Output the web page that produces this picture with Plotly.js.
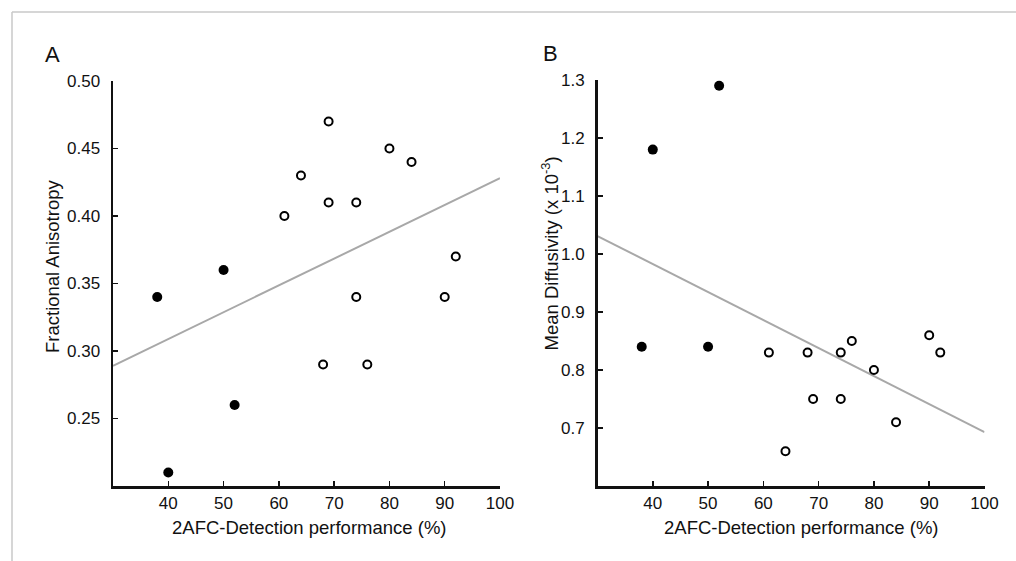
<!DOCTYPE html>
<html><head><meta charset="utf-8">
<script src="https://cdn.plot.ly/plotly-3.0.1.min.js"></script>
<style>html,body{margin:0;padding:0;background:#fff}#chart{width:1016px;height:561px}</style>
</head><body><div id="chart"></div>
<script>
// Panel A: Fractional Anisotropy vs 2AFC detection performance
const perfA_filled = [38, 40, 50, 52];
const fa_filled = [0.34, 0.21, 0.36, 0.26];
const perfA_open = [61, 64, 69, 69, 74, 80, 84, 92, 74, 90, 68, 76];
const fa_open = [0.40, 0.43, 0.47, 0.41, 0.41, 0.45, 0.44, 0.37, 0.34, 0.34, 0.29, 0.29];
const fitA_x = [30, 100];
const fitA_y = [0.289, 0.428];

// Panel B: Mean Diffusivity vs 2AFC detection performance
const perfB_filled = [38, 40, 50, 52];
const md_filled = [0.84, 1.18, 0.84, 1.29];
const perfB_open = [61, 64, 68, 69, 74, 74, 76, 80, 84, 90, 92];
const md_open = [0.83, 0.66, 0.83, 0.75, 0.83, 0.75, 0.85, 0.80, 0.71, 0.86, 0.83];
const fitB_x = [30, 100];
const fitB_y = [1.031, 0.693];

const xTicks = [40, 50, 60, 70, 80, 90, 100];
const faTicks = [0.25, 0.30, 0.35, 0.40, 0.45, 0.50];
const mdTicks = [0.7, 0.8, 0.9, 1.0, 1.1, 1.2, 1.3];

const xTitle = '2AFC-Detection performance (%)';
const yTitleA = 'Fractional Anisotropy';
const yTitleB = 'Mean Diffusivity (x 10<sup>-3</sup>)';

const FONT = 'Liberation Sans, Arial, Helvetica, sans-serif';
const W = 1016, H = 561;
const px = v => v / W;
const py = v => (H - v) / H;

const lineStyle = {color: '#a8a8a8', width: 2};
const filledMarker = {symbol: 'circle', size: 10, color: '#000'};
const openMarker = {symbol: 'circle', size: 8, color: '#fff', line: {color: '#000', width: 2}};

const traces = [
  {x: fitA_x, y: fitA_y, mode: 'lines', line: lineStyle, xaxis: 'x', yaxis: 'y', hoverinfo: 'skip'},
  {x: perfA_filled, y: fa_filled, mode: 'markers', marker: filledMarker, xaxis: 'x', yaxis: 'y', cliponaxis: false},
  {x: perfA_open, y: fa_open, mode: 'markers', marker: openMarker, xaxis: 'x', yaxis: 'y', cliponaxis: false},
  {x: fitB_x, y: fitB_y, mode: 'lines', line: lineStyle, xaxis: 'x2', yaxis: 'y2', hoverinfo: 'skip'},
  {x: perfB_filled, y: md_filled, mode: 'markers', marker: filledMarker, xaxis: 'x2', yaxis: 'y2', cliponaxis: false},
  {x: perfB_open, y: md_open, mode: 'markers', marker: openMarker, xaxis: 'x2', yaxis: 'y2', cliponaxis: false}
];

const axisBase = {
  showline: true, linecolor: '#111', linewidth: 2.5,
  ticks: 'inside', ticklen: 5, tickwidth: 1.5, tickcolor: '#111',
  showgrid: false, zeroline: false, fixedrange: true,
  tickfont: {family: FONT, size: 17, color: '#111'}
};

const layout = {
  width: W, height: H,
  margin: {l: 0, r: 0, t: 0, b: 0},
  paper_bgcolor: '#fff', plot_bgcolor: '#fff',
  showlegend: false,
  xaxis: Object.assign({}, axisBase, {domain: [px(113), px(500)], range: [30, 100], tickvals: xTicks, anchor: 'y', ticklabelstandoff: 0}),
  yaxis: Object.assign({}, axisBase, {domain: [py(486), py(81)], range: [0.20, 0.50], tickvals: faTicks, tickformat: '.2f', anchor: 'x', ticklabelstandoff: 7}),
  xaxis2: Object.assign({}, axisBase, {domain: [px(597.5), px(984.5)], range: [30, 100], tickvals: xTicks, anchor: 'y2', ticklabelstandoff: 0}),
  yaxis2: Object.assign({}, axisBase, {domain: [py(486), py(80)], range: [0.6, 1.3], tickvals: mdTicks, tickformat: '.1f', anchor: 'x2', ticklabelstandoff: 7}),
  shapes: [
    {type: 'line', xref: 'paper', yref: 'paper', x0: px(12), x1: 1, y0: py(12), y1: py(12), line: {color: '#c8c8c8', width: 1.5}},
    {type: 'line', xref: 'paper', yref: 'paper', x0: px(12), x1: px(12), y0: py(12), y1: 0, line: {color: '#c8c8c8', width: 1.5}}
  ],
  annotations: [
    {text: 'A', xref: 'paper', yref: 'paper', x: px(52), y: py(54), showarrow: false, xanchor: 'center', yanchor: 'middle', font: {family: FONT, size: 22, color: '#111'}},
    {text: 'B', xref: 'paper', yref: 'paper', x: px(550), y: py(53), showarrow: false, xanchor: 'center', yanchor: 'middle', font: {family: FONT, size: 22, color: '#111'}},
    {text: yTitleA, xref: 'paper', yref: 'paper', x: px(52.5), y: py(266.5), textangle: -90, showarrow: false, xanchor: 'center', yanchor: 'middle', font: {family: FONT, size: 18.5, color: '#111'}},
    {text: yTitleB, xref: 'paper', yref: 'paper', x: px(550.5), y: py(254), textangle: -90, showarrow: false, xanchor: 'center', yanchor: 'middle', font: {family: FONT, size: 18.5, color: '#111'}},
    {text: xTitle, xref: 'paper', yref: 'paper', x: px(309.5), y: py(527), showarrow: false, xanchor: 'center', yanchor: 'middle', font: {family: FONT, size: 18.5, color: '#111'}},
    {text: xTitle, xref: 'paper', yref: 'paper', x: px(801.7), y: py(527), showarrow: false, xanchor: 'center', yanchor: 'middle', font: {family: FONT, size: 18.5, color: '#111'}}
  ]
};

Plotly.newPlot('chart', traces, layout, {displayModeBar: false, staticPlot: true});
</script>
</body></html>
